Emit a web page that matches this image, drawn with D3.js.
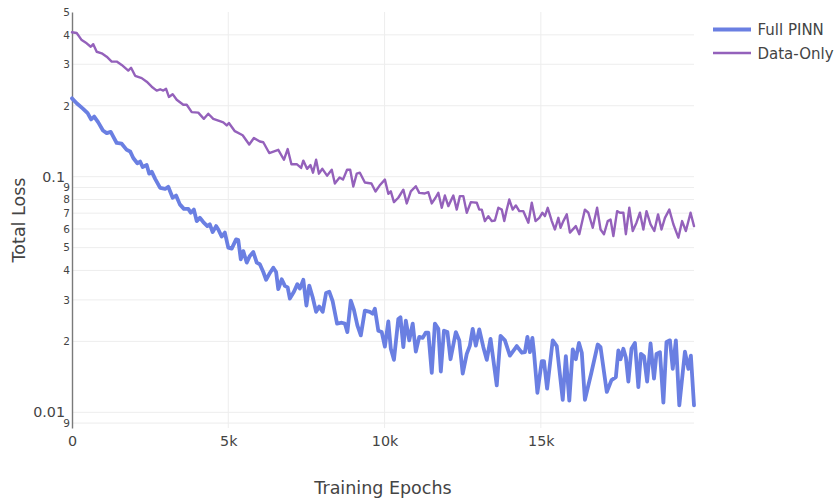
<!DOCTYPE html>
<html>
<head>
<meta charset="utf-8">
<script src="https://cdn.jsdelivr.net/npm/d3@7/dist/d3.min.js"></script>
<style>
  html, body { margin: 0; padding: 0; background: #fff; }
  svg { display: block; font-family: Verdana, "DejaVu Sans", sans-serif; }
</style>
</head>
<body>
<svg id="chart" width="834" height="504"></svg>
<script>
// ---- Data ----
const seriesNames = ["Full PINN", "Data-Only"];

const epochsPinn = [0,150,340,500,610,710,840,990,1110,1240,1320,1430,1590,1750,1860,1960,2090,2180,2260,2390,
  2470,2550,2660,2820,2980,3080,3220,3330,3450,3580,3720,3800,3900,3990,4090,4200,4330,4410,4500,4610,
  4680,4790,4890,5000,5110,5250,5320,5400,5480,5590,5690,5800,5910,6010,6120,6210,6310,6440,6530,6600,
  6710,6810,6900,6970,7100,7210,7290,7400,7500,7590,7700,7810,7910,8020,8130,8230,8340,8480,8630,8730,
  8810,8920,9020,9130,9240,9370,9530,9620,9690,9800,9910,10010,10120,10200,10300,10440,10510,10600,10680,10790,
  10900,11000,11110,11220,11320,11400,11510,11610,11720,11800,11900,12010,12110,12280,12390,12500,12630,12730,12820,12920,
  13030,13160,13270,13390,13590,13710,13850,14010,14230,14390,14490,14570,14650,14730,14780,14890,15030,15100,15200,15380,
  15510,15700,15800,15910,16020,16120,16220,16310,16410,16620,16820,16910,17110,17260,17400,17480,17550,17640,17720,17800,
  17900,18010,18120,18200,18300,18400,18510,18620,18700,18810,18920,19020,19130,19220,19320,19430,19610,19720,19800,19900];
const lossPinn = [0.215,0.205,0.195,0.186,0.175,0.180,0.170,0.157,0.153,0.155,0.148,0.139,0.138,0.130,0.128,0.120,0.114,0.116,0.110,0.112,
  0.103,0.105,0.0979,0.0896,0.0887,0.0906,0.0814,0.0832,0.0763,0.0730,0.0730,0.0703,0.0725,0.0648,0.0669,0.0642,0.0617,0.0628,0.0582,0.0617,
  0.0597,0.0557,0.0579,0.0500,0.0495,0.0542,0.0538,0.0446,0.0483,0.0432,0.0461,0.0479,0.0432,0.0425,0.0394,0.0365,0.0386,0.0411,0.0394,0.0333,
  0.0367,0.0344,0.0339,0.0304,0.0325,0.0350,0.0335,0.0365,0.0284,0.0345,0.0308,0.0267,0.0281,0.0267,0.0321,0.0325,0.0296,0.0238,0.0240,0.0238,
  0.0219,0.0298,0.0272,0.0234,0.0212,0.0270,0.0267,0.0262,0.0275,0.0222,0.0219,0.0190,0.0243,0.0186,0.0167,0.0249,0.0253,0.0189,0.0245,0.0202,
  0.0238,0.0181,0.0209,0.0207,0.0218,0.0218,0.0147,0.0238,0.0226,0.0149,0.0222,0.0219,0.0168,0.0219,0.0202,0.0146,0.0177,0.0192,0.0226,0.0192,
  0.0225,0.0189,0.0167,0.0205,0.0130,0.0211,0.0202,0.0174,0.0191,0.0179,0.0180,0.0209,0.0180,0.0207,0.0180,0.0121,0.0165,0.0165,0.0126,0.0202,
  0.0191,0.0113,0.0173,0.0112,0.0185,0.0168,0.0197,0.0179,0.0113,0.0148,0.0194,0.0189,0.0122,0.0137,0.0141,0.0183,0.0168,0.0186,0.0171,0.0135,
  0.0186,0.0197,0.0128,0.0177,0.0173,0.0135,0.0196,0.0139,0.0177,0.0180,0.0110,0.0199,0.0202,0.0153,0.0202,0.0107,0.0181,0.0153,0.0174,0.0107];

const epochsData = [0,150,310,470,600,680,790,950,1110,1270,1430,1590,1800,1890,2020,2230,2390,2550,2710,2820,
  2920,3010,3100,3220,3350,3560,3670,3830,4040,4220,4360,4520,4730,4840,4950,5020,5210,5460,5670,5820,
  6010,6120,6310,6600,6780,6900,7020,7190,7330,7400,7520,7630,7710,7810,7900,8010,8160,8310,8410,8560,
  8670,8800,8900,9000,9110,9210,9370,9580,9710,9840,10010,10120,10200,10300,10440,10600,10710,10840,11000,11110,
  11290,11400,11510,11630,11720,11830,11930,12040,12200,12310,12410,12520,12630,12760,12840,12950,13030,13110,13210,13320,
  13430,13530,13640,13750,13830,13910,13990,14100,14200,14310,14440,14600,14710,14830,14950,15050,15130,15220,15350,15450,
  15560,15630,15720,15830,15930,16120,16230,16410,16520,16660,16800,16910,17020,17140,17230,17320,17440,17530,17640,17720,
  17830,17940,18060,18170,18280,18380,18510,18630,18750,18860,18970,19110,19240,19400,19520,19640,19790,19900];
const lossData = [0.410,0.407,0.380,0.368,0.356,0.365,0.339,0.334,0.323,0.308,0.308,0.298,0.282,0.290,0.268,0.262,0.253,0.241,0.232,0.235,
  0.232,0.236,0.218,0.224,0.212,0.202,0.202,0.188,0.187,0.176,0.185,0.176,0.172,0.170,0.165,0.169,0.156,0.150,0.137,0.146,
  0.141,0.140,0.126,0.130,0.118,0.131,0.113,0.113,0.109,0.117,0.108,0.112,0.104,0.118,0.103,0.108,0.101,0.107,0.0936,0.0992,
  0.0972,0.107,0.107,0.0908,0.103,0.104,0.0945,0.0936,0.0865,0.0917,0.0972,0.0846,0.0867,0.0780,0.0814,0.0881,0.0770,0.0867,0.0911,0.0854,
  0.0849,0.0859,0.0770,0.0814,0.0854,0.0738,0.0832,0.0750,0.0832,0.0725,0.0827,0.0827,0.0703,0.0780,0.0778,0.0775,0.0725,0.0725,0.0648,0.0680,
  0.0648,0.0652,0.0738,0.0725,0.0648,0.0725,0.0800,0.0725,0.0755,0.0714,0.0714,0.0638,0.0775,0.0648,0.0669,0.0703,0.0680,0.0738,0.0648,0.0597,
  0.0669,0.0607,0.0648,0.0692,0.0579,0.0617,0.0570,0.0725,0.0703,0.0607,0.0738,0.0597,0.0570,0.0648,0.0658,0.0560,0.0714,0.0703,0.0703,0.0570,
  0.0738,0.0588,0.0638,0.0703,0.0597,0.0714,0.0628,0.0588,0.0692,0.0597,0.0669,0.0725,0.0628,0.0551,0.0648,0.0588,0.0703,0.0617];

const xTickValues = [0, 5000, 10000, 15000];
const xTickLabels = ["0", "5k", "10k", "15k"];
const yMajorTicks = [0.01, 0.1];
const yMajorLabels = ["0.01", "0.1"];
const yMinorTicks = [0.009, 0.02, 0.03, 0.04, 0.05, 0.06, 0.07, 0.08, 0.09, 0.2, 0.3, 0.4, 0.5];
const yMinorLabels = ["9", "2", "3", "4", "5", "6", "7", "8", "9", "2", "3", "4", "5"];
const xTitle = "Training Epochs";
const yTitle = "Total Loss";

// ---- Layout ----
const W = 834, H = 504;
const plot = { left: 72, right: 694, top: 12, bottom: 428 };
const colors = ["#6a7fe2", "#9461bb"];
const widths = [3.8, 2.4];
const textColor = "#444";

const svg = d3.select("#chart");

const x = d3.scaleLinear().domain([0, 19900]).range([plot.left, plot.right]);
const y = d3.scaleLog().domain([0.008578, 0.5]).range([plot.bottom, plot.top]);

// Grid
const grid = svg.append("g");
grid.selectAll("line.hg")
  .data(yMajorTicks.concat(yMinorTicks).filter(v => v < 0.5))
  .join("line")
  .attr("x1", plot.left).attr("x2", plot.right)
  .attr("y1", d => y(d)).attr("y2", d => y(d))
  .attr("stroke", "#ededed").attr("stroke-width", 1);
grid.selectAll("line.vg")
  .data(xTickValues.filter(v => v > 0))
  .join("line")
  .attr("x1", d => x(d)).attr("x2", d => x(d))
  .attr("y1", plot.top).attr("y2", plot.bottom)
  .attr("stroke", "#ededed").attr("stroke-width", 1);

// X axis (labels only)
const xAxis = d3.axisBottom(x)
  .tickValues(xTickValues)
  .tickFormat((d, i) => xTickLabels[i])
  .tickSize(0).tickSizeOuter(0).tickPadding(8);
const gx = svg.append("g").attr("transform", `translate(0,${plot.bottom})`).call(xAxis);
gx.select(".domain").remove();
gx.selectAll("text").attr("fill", textColor).style("font-size", "14.3px")
  .style("font-family", 'Verdana, "DejaVu Sans", sans-serif');

// Y axis
const allY = yMajorTicks.concat(yMinorTicks);
const labelOf = v => {
  const mi = yMajorTicks.indexOf(v);
  if (mi >= 0) return yMajorLabels[mi];
  return yMinorLabels[yMinorTicks.indexOf(v)];
};
const yAxis = d3.axisLeft(y)
  .tickValues(allY)
  .tickFormat(labelOf)
  .tickSize(0).tickSizeOuter(0).tickPadding(2);
const gy = svg.append("g").attr("transform", `translate(${plot.left},0)`).call(yAxis);
gy.select(".domain").attr("stroke", "#7a7a7a").attr("stroke-width", 1.4);
gy.selectAll(".tick text")
  .attr("fill", textColor)
  .style("font-family", 'Verdana, "DejaVu Sans", sans-serif')
  .style("font-size", d => yMajorTicks.includes(d) ? "14.3px" : "10.5px")
  .attr("x", d => yMajorTicks.includes(d) ? -7 : -2);

// Lines
const series = [
  { name: seriesNames[1], ex: epochsData, vals: lossData, color: colors[1], w: widths[1] },
  { name: seriesNames[0], ex: epochsPinn, vals: lossPinn, color: colors[0], w: widths[0] }
];
const line = d3.line().x(d => x(d[0])).y(d => y(d[1]));
svg.append("g").selectAll("path")
  .data(series)
  .join("path")
  .attr("d", s => line(s.ex.map((e, i) => [e, s.vals[i]])))
  .attr("fill", "none")
  .attr("stroke", s => s.color)
  .attr("stroke-width", s => s.w)
  .attr("stroke-linejoin", "round")
  .attr("stroke-linecap", "round");

// Titles
svg.append("text")
  .attr("x", (plot.left + plot.right) / 2).attr("y", 494)
  .attr("text-anchor", "middle")
  .attr("fill", textColor)
  .style("font-size", "17.5px")
  .text(xTitle);
svg.append("text")
  .attr("transform", `translate(25,${(plot.top + plot.bottom) / 2}) rotate(-90)`)
  .attr("text-anchor", "middle")
  .attr("fill", textColor)
  .style("font-size", "17.5px")
  .text(yTitle);

// Legend
const legend = svg.append("g");
const legendRows = [0, 1];
const legendY = [29.5, 53];
legendRows.forEach(i => {
  legend.append("line")
    .attr("x1", 713).attr("x2", 751)
    .attr("y1", legendY[i]).attr("y2", legendY[i])
    .attr("stroke", colors[i]).attr("stroke-width", widths[i]);
  legend.append("text")
    .attr("x", 757.5).attr("y", legendY[i] + 5.8)
    .attr("fill", textColor)
    .style("font-size", "15px")
    .text(seriesNames[i]);
});
</script>
</body>
</html>
